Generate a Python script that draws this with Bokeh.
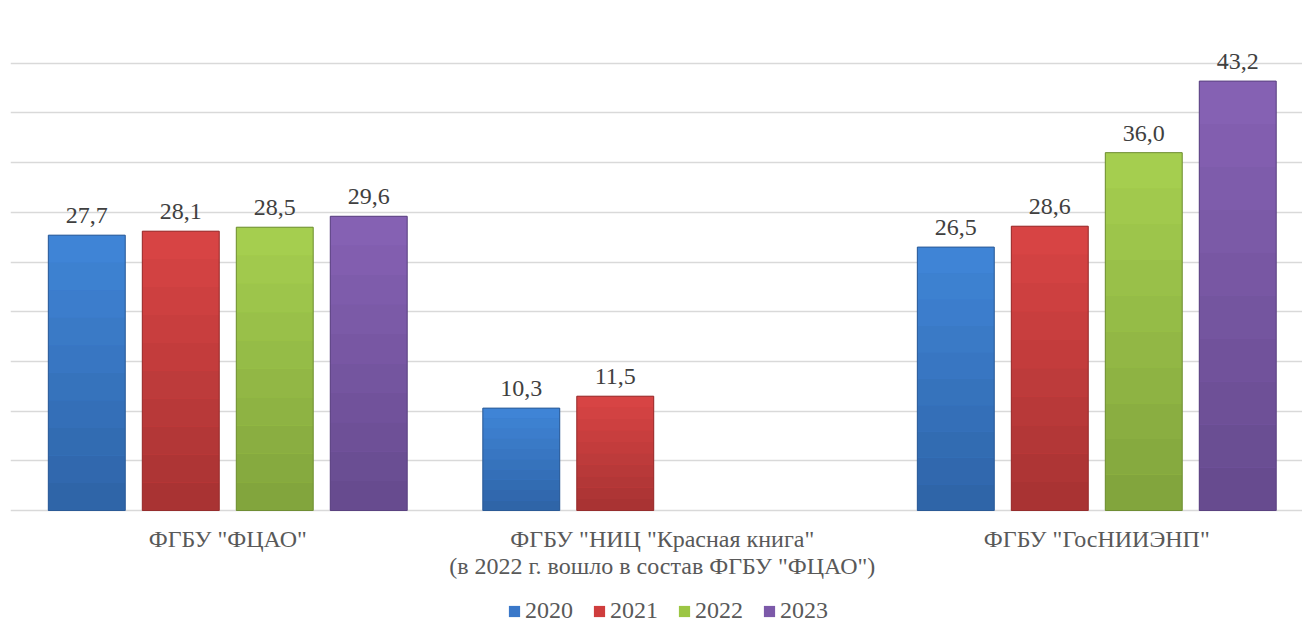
from bokeh.plotting import figure
from bokeh.models import ColumnDataSource, Range1d, FixedTicker, Legend, LegendItem, LabelSet
from bokeh.core.properties import value
from bokeh.transform import dodge
from bokeh.embed import file_html
from bokeh.resources import INLINE

categories = ['ФГБУ "ФЦАО"',
              'ФГБУ "НИЦ "Красная книга"\n(в 2022 г. вошло в состав ФГБУ "ФЦАО")',
              'ФГБУ "ГосНИИЭНП"']
years = ["2020", "2021", "2022", "2023"]
v2020 = [27.7, 10.3, 26.5]
v2021 = [28.1, 11.5, 28.6]
v2022 = [28.5, None, 36.0]
v2023 = [29.6, None, 43.2]
series = [v2020, v2021, v2022, v2023]
top_colors = ["#4086D8", "#DA4545", "#A7D050", "#8762B5"]
bot_colors = ["#2E63A6", "#A63232", "#80A33C", "#654A8D"]
mid_colors = ["#3A78C9", "#CF3D3D", "#9CC644", "#7C59A9"]
edges = ["#2B5A96", "#962D2D", "#6F8E34", "#5A4280"]

FONT = "Liberation Serif"
H = 624
TOP = 13
BASE = 510
YMAX = 50
y_start = -YMAX * (H - BASE) / (BASE - TOP)


def mix(c1, c2, t):
    a = [int(c1[i:i + 2], 16) for i in (1, 3, 5)]
    b = [int(c2[i:i + 2], 16) for i in (1, 3, 5)]
    return "#%02x%02x%02x" % tuple(round(a[j] + (b[j] - a[j]) * t) for j in range(3))


p = figure(width=1302, height=H, output_backend="svg", toolbar_location=None,
           x_range=Range1d(0, 2.9735), y_range=Range1d(y_start, YMAX),
           min_border_left=10, min_border_right=0, min_border_top=TOP,
           min_border_bottom=0)
p.outline_line_color = None
p.background_fill_color = "white"
p.border_fill_color = "white"
p.xaxis.visible = False
p.yaxis.visible = False

p.ygrid.ticker = FixedTicker(ticks=list(range(0, 51, 5)))
p.ygrid.grid_line_color = "#D9D9D9"
p.ygrid.grid_line_width = 1.3
p.xgrid.grid_line_color = None

step = 0.2163
bw = 0.177
NB = 10
items = []
for k, (yr, vals) in enumerate(zip(years, series)):
    xs = [i + 0.5 for i, v in enumerate(vals) if v is not None]
    ys = [v for v in vals if v is not None]
    labs = [f"{v:.1f}".replace(".", ",") for v in ys]
    off = (k - 1.5) * step
    src = ColumnDataSource(dict(x=xs, top=ys, lab=labs))
    r = p.vbar(x=dodge("x", off), top="top", bottom=0, width=bw, source=src,
               fill_color=mid_colors[k], line_color=None)
    items.append(LegendItem(label=yr, renderers=[r]))
    for b in range(NB):
        f0, f1 = b / NB, (b + 1) / NB
        bsrc = ColumnDataSource(dict(x=xs, b=[v * f0 for v in ys], t=[v * f1 for v in ys]))
        p.vbar(x=dodge("x", off), top="t", bottom="b", width=bw, source=bsrc,
               fill_color=mix(bot_colors[k], top_colors[k], (b + 0.5) / NB),
               line_color=None)
    p.vbar(x=dodge("x", off), top="top", bottom=0, width=bw, source=src,
           fill_alpha=0, line_color=edges[k], line_width=1)
    ls = LabelSet(x=dodge("x", off), y="top", text="lab", source=src,
                  text_align="center", text_baseline="bottom", y_offset=12,
                  text_font=value(FONT), text_font_size=value("24px"),
                  text_color=value("#404040"))
    p.add_layout(ls)

cat_src = ColumnDataSource(dict(x=[i + 0.5 for i in range(len(categories))],
                                y=[0] * len(categories), t=categories))
p.text(x="x", y="y", text="t", source=cat_src, text_align="center",
       text_baseline="top", y_offset=15, text_font=value(FONT),
       text_font_size=value("24px"), text_line_height=1.05, text_color="#595959")

legend = Legend(items=items, orientation="horizontal", location=(497, 0),
                label_text_font=FONT, label_text_font_size="24px", label_text_color="#595959",
                glyph_width=14, glyph_height=14, label_standoff=4, spacing=19,
                label_height=22,
                border_line_color=None, background_fill_alpha=0, margin=0, padding=0)
p.add_layout(legend)

open("out.html", "w").write(file_html(p, INLINE))
